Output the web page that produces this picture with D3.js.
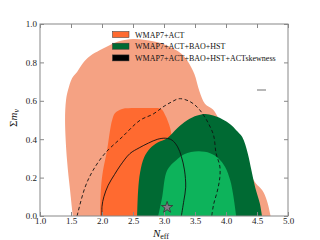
<!DOCTYPE html>
<html>
<head>
<meta charset="utf-8">
<script src="https://cdn.jsdelivr.net/npm/d3@7"></script>
<style>
  body { margin: 0; background: #fff; }
  svg { display: block; }
  text { font-family: "Liberation Serif", "DejaVu Serif", serif; }
</style>
</head>
<body>
<svg id="chart" width="320" height="240"></svg>
<script>
// contour outlines, traced as [N_eff, sum m_nu] from bottom-left round to bottom-right
const act95 = [[1.53,0],[1.485,0.134],[1.436,0.29],[1.404,0.499],[1.42,0.604],[1.452,0.656],[1.517,0.718],
  [1.598,0.75],[1.694,0.797],[1.808,0.833],[1.969,0.864],[2.13,0.891],[2.29,0.911],[2.5,0.922],[2.7,0.917],
  [2.94,0.901],[3.13,0.875],[3.29,0.843],[3.39,0.802],[3.49,0.739],[3.57,0.651],[3.66,0.585],[3.79,0.555],
  [3.9,0.5],[4.1,0.42],[4.3,0.28],[4.48,0.17],[4.585,0.134],[4.66,0.08],[4.72,0]];
const act68 = [[1.969,0],[1.985,0.15],[2.017,0.238],[2.082,0.343],[2.13,0.447],[2.163,0.499],[2.211,0.536],
  [2.324,0.557],[2.534,0.562],[2.777,0.562],[2.95,0.558],[3.02,0.525],[3.1,0.457],[3.14,0.38],
  [3.2,0.3],[3.26,0.2],[3.3,0.1],[3.32,0]];
const bao95 = [[2.567,0],[2.583,0.134],[2.615,0.228],[2.68,0.306],[2.777,0.353],[2.906,0.384],[3.051,0.405],
  [3.213,0.457],[3.374,0.499],[3.536,0.523],[3.665,0.531],[3.794,0.523],[3.94,0.504],[4.068,0.478],
  [4.165,0.447],[4.262,0.411],[4.35,0.327],[4.41,0.238],[4.47,0.15],[4.545,0.066],[4.58,0]];
const bao68 = [[2.906,0],[2.97,0.098],[3.051,0.238],[3.196,0.29],[3.326,0.322],[3.552,0.337],[3.745,0.327],
  [3.875,0.301],[3.988,0.254],[4.068,0.186],[4.117,0.108],[4.165,0]];
const skew68 = [[2.0,0],[2.0,0.05],[2.03,0.1],[2.1,0.16],[2.2,0.215],[2.3,0.265],[2.45,0.325],[2.6,0.355],
  [2.75,0.38],[2.9,0.4],[3.03,0.405],[3.13,0.395],[3.22,0.36],[3.28,0.31],[3.33,0.24],[3.35,0.15],
  [3.32,0.08],[3.28,0]];
const skew95 = [[1.598,0],[1.727,0.15],[1.856,0.238],[2.05,0.327],[2.324,0.411],[2.615,0.499],[2.825,0.531],
  [3.003,0.572],[3.116,0.593],[3.245,0.611],[3.406,0.598],[3.536,0.567],[3.649,0.52],[3.72,0.48],
  [3.8,0.42],[3.84,0.327],[3.9,0.26],[3.9,0.2],[3.86,0.13],[3.8,0.06],[3.77,0]];
const bestFit = [[3.05, 0.045]];

const xTicks = [1.0, 1.5, 2.0, 2.5, 3.0, 3.5, 4.0, 4.5, 5.0];
const yTicks = [0.0, 0.2, 0.4, 0.6, 0.8, 1.0];
const legendLabels = ["WMAP7+ACT", "WMAP7+ACT+BAO+HST", "WMAP7+ACT+BAO+HST+ACTskewness"];
const legendColors = ["#ff6a30", "#006a33", "#000000"];

const svg = d3.select("#chart");
const plotLeft = 40, plotRight = 288, plotTop = 24, plotBottom = 216;

const xScale = d3.scaleLinear().domain([1, 5]).range([plotLeft, plotRight]);
const yScale = d3.scaleLinear().domain([0, 1]).range([plotBottom, plotTop]);

const line = d3.line()
  .x(d => xScale(d[0]))
  .y(d => yScale(d[1]))
  .curve(d3.curveCatmullRom.alpha(0.5));

const plot = svg.append("g");

// filled regions, back to front
const fills = [
  [act95, "#f5a283"],
  [act68, "#ff6a30"],
  [bao95, "#006a33"],
  [bao68, "#0db35b"]
];
plot.selectAll("path.fill")
  .data(fills)
  .join("path")
    .attr("class", "fill")
    .attr("d", d => line(d[0]) + "Z")
    .attr("fill", d => d[1]);

// skewness contours
plot.append("path")
  .attr("d", line(skew95))
  .attr("fill", "none")
  .attr("stroke", "#111")
  .attr("stroke-width", 0.9)
  .attr("stroke-dasharray", "3.5,2.5");

plot.append("path")
  .attr("d", line(skew68))
  .attr("fill", "none")
  .attr("stroke", "#111")
  .attr("stroke-width", 0.9);

// best fit star
plot.selectAll("path.star")
  .data(bestFit)
  .join("path")
    .attr("class", "star")
    .attr("d", d3.symbol(d3.symbolStar, 40))
    .attr("transform", d => `translate(${xScale(d[0])},${yScale(d[1])})`)
    .attr("fill", "#857a86")
    .attr("stroke", "#333")
    .attr("stroke-width", 0.8);

// axes with inward ticks on all four sides
const axisColor = "#888";
function styleAxis(g, showLabels) {
  g.select(".domain").remove();
  g.selectAll(".tick line").attr("stroke", axisColor);
  g.selectAll(".tick text")
    .attr("fill", "#222")
    .style("font-size", "9px")
    .style("display", showLabels ? null : "none");
}

svg.append("g")
  .attr("transform", `translate(0,${plotBottom})`)
  .call(d3.axisBottom(xScale).tickValues(xTicks).tickFormat(d3.format(".1f")).tickSizeInner(-4).tickPadding(2))
  .call(g => styleAxis(g, true));

svg.append("g")
  .attr("transform", `translate(0,${plotTop})`)
  .call(d3.axisTop(xScale).tickValues(xTicks).tickSizeInner(-4))
  .call(g => styleAxis(g, false));

svg.append("g")
  .attr("transform", `translate(${plotLeft},0)`)
  .call(d3.axisLeft(yScale).tickValues(yTicks).tickFormat(d3.format(".1f")).tickSizeInner(-4).tickPadding(3))
  .call(g => styleAxis(g, true));

svg.append("g")
  .attr("transform", `translate(${plotRight},0)`)
  .call(d3.axisRight(yScale).tickValues(yTicks).tickSizeInner(-4))
  .call(g => styleAxis(g, false));

svg.append("rect")
  .attr("x", plotLeft).attr("y", plotTop)
  .attr("width", plotRight - plotLeft).attr("height", plotBottom - plotTop)
  .attr("fill", "none")
  .attr("stroke", axisColor)
  .attr("stroke-width", 1);

// axis labels
const xl = svg.append("text")
  .attr("x", 161).attr("y", 237)
  .attr("text-anchor", "middle")
  .style("font-size", "11px")
  .attr("fill", "#111");
xl.append("tspan").style("font-style", "italic").text("N");
xl.append("tspan").attr("dy", 2).style("font-size", "8px").text("eff");

const yl = svg.append("text")
  .attr("transform", "translate(17,118) rotate(-90)")
  .attr("text-anchor", "middle")
  .style("font-size", "11px")
  .attr("fill", "#111");
yl.append("tspan").text("Σ");
yl.append("tspan").style("font-style", "italic").text("m");
yl.append("tspan").attr("dy", 2).style("font-size", "8px").style("font-style", "italic").text("ν");

// legend
const legend = svg.append("g");
const rows = legend.selectAll("g")
  .data(legendLabels)
  .join("g")
    .attr("transform", (d, i) => `translate(112.5,${31.5 + i * 11.7})`);
rows.append("rect")
  .attr("width", 16.5).attr("height", 6)
  .attr("fill", (d, i) => legendColors[i])
  .attr("stroke", "#333")
  .attr("stroke-width", 0.5);
rows.append("text")
  .attr("x", 22.5).attr("y", 6)
  .style("font-size", "8px")
  .attr("fill", "#111")
  .text(d => d);

// stray short marker at right
svg.append("line")
  .attr("x1", 257).attr("x2", 266)
  .attr("y1", 90).attr("y2", 90)
  .attr("stroke", "#888")
  .attr("stroke-width", 1.2);
</script>
</body>
</html>
